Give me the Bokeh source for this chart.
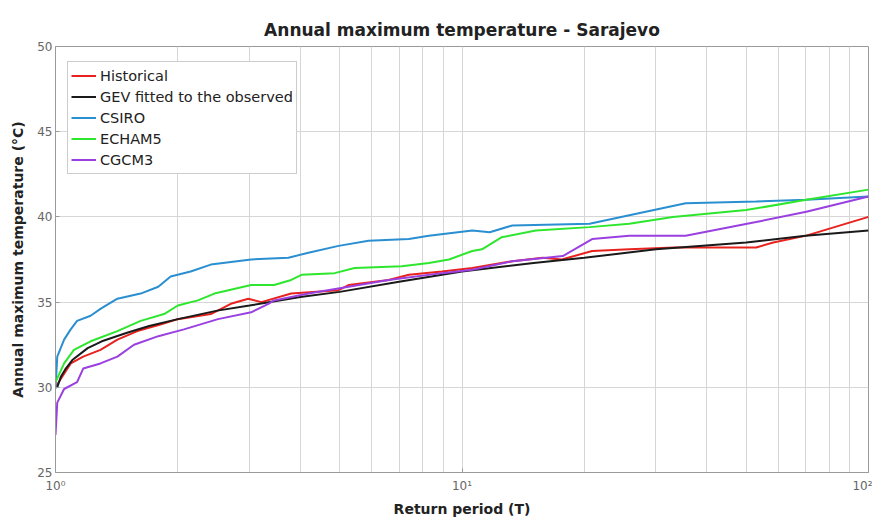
from bokeh.plotting import figure
from bokeh.models import Range1d, FixedTicker
from bokeh.embed import file_html
from bokeh.resources import INLINE

# ---- data ----
title_text = "Annual maximum temperature - Sarajevo"
x_label = "Return period (T)"
y_label = "Annual maximum temperature (°C)"
series_names = ["Historical", "GEV fitted to the observed", "CSIRO", "ECHAM5", "CGCM3"]

hist_T = [1.0, 1.09, 1.17, 1.29, 1.42, 1.59, 1.82, 2.0, 2.41, 2.7, 2.98, 3.21, 3.8,
          4.97, 5.26, 6.6, 7.4, 8.93, 10.6, 13.3, 15.8, 17.6, 20.9, 25.8, 33.3, 52.9,
          58.3, 70.3, 100.0]
hist_V = [30.0, 31.4, 31.8, 32.2, 32.8, 33.3, 33.7, 34.0, 34.3, 34.9, 35.2, 35.0, 35.5,
          35.7, 36.0, 36.3, 36.6, 36.8, 37.0, 37.4, 37.6, 37.5, 38.0, 38.1, 38.2, 38.2,
          38.5, 38.9, 40.0]

gev_T = [1.01, 1.03, 1.06, 1.1, 1.2, 1.3, 1.5, 1.7, 2.0, 2.5, 3.0, 4.0, 5.0, 7.0,
         10.0, 15.0, 20.0, 30.0, 50.0, 70.0, 100.0]
gev_V = [30.0, 30.6, 31.1, 31.6, 32.3, 32.7, 33.2, 33.6, 34.0, 34.5, 34.8, 35.3, 35.6,
         36.2, 36.8, 37.3, 37.6, 38.1, 38.5, 38.9, 39.2]

csiro_T = [1.0, 1.01, 1.05, 1.09, 1.13, 1.22, 1.29, 1.42, 1.62, 1.79, 1.92, 2.15, 2.41,
           3.03, 3.74, 4.19, 4.97, 5.89, 7.4, 8.29, 10.6, 11.7, 13.3, 20.6, 25.8, 35.5,
           52.9, 70.3, 100.0]
csiro_V = [29.9, 31.8, 32.8, 33.4, 33.9, 34.2, 34.6, 35.2, 35.5, 35.9, 36.5, 36.8, 37.2,
           37.5, 37.6, 37.9, 38.3, 38.6, 38.7, 38.9, 39.2, 39.1, 39.5, 39.6, 40.1, 40.8,
           40.9, 41.0, 41.2]

echam_T = [1.0, 1.05, 1.11, 1.22, 1.42, 1.62, 1.85, 2.0, 2.24, 2.46, 3.03, 3.45, 3.8,
           4.03, 4.86, 5.44, 7.11, 8.29, 9.29, 10.6, 11.2, 12.5, 15.2, 20.6, 25.8, 33.0,
           50.0, 70.3, 100.0]
echam_V = [30.3, 31.4, 32.2, 32.7, 33.3, 33.9, 34.3, 34.8, 35.1, 35.5, 36.0, 36.0, 36.3,
           36.6, 36.7, 37.0, 37.1, 37.3, 37.5, 38.0, 38.1, 38.8, 39.2, 39.4, 39.6, 40.0,
           40.4, 41.0, 41.6]

cgcm_T = [1.0, 1.01, 1.05, 1.13, 1.17, 1.29, 1.42, 1.56, 1.79, 2.07, 2.51, 3.03, 3.34,
          3.45, 4.19, 5.26, 6.6, 8.93, 10.6, 13.3, 17.7, 20.9, 25.8, 35.5, 52.9, 70.3, 100.0]
cgcm_V = [27.2, 29.1, 29.9, 30.3, 31.1, 31.4, 31.8, 32.5, 33.0, 33.4, 34.0, 34.4, 34.9,
          35.1, 35.5, 35.9, 36.3, 36.7, 36.9, 37.4, 37.7, 38.7, 38.9, 38.9, 39.7, 40.3, 41.2]

x_major = [1, 10, 100]
x_major_labels = ["10⁰", "10¹", "10²"]
x_minor = [2, 3, 4, 5, 6, 7, 8, 9, 20, 30, 40, 50, 60, 70, 80, 90]
y_ticks = [25, 30, 35, 40, 45, 50]

colors = ["#e8221e", "#1a1a1a", "#2a8fd0", "#2ee62e", "#9a40e0"]

FONT = "DejaVu Sans"

p = figure(width=872, height=519, x_axis_type="log",
           x_range=Range1d(1, 100), y_range=Range1d(25, 50),
           output_backend="svg", toolbar_location=None,
           title=title_text,
           min_border_left=55, min_border_right=4,
           min_border_top=46, min_border_bottom=41)

p.title.align = "center"
p.title.text_font = FONT
p.title.text_font_size = "17px"
p.title.text_font_style = "bold"
p.title.text_color = "#222222"
p.title.offset = 0
p.title.standoff = 14

data = [(hist_T, hist_V), (gev_T, gev_V), (csiro_T, csiro_V), (echam_T, echam_V), (cgcm_T, cgcm_V)]
for (t, v), name, c in zip(data, series_names, colors):
    p.line(t, v, line_color=c, line_width=2, legend_label=name)

p.xaxis.ticker = FixedTicker(ticks=x_major, minor_ticks=x_minor)
p.xaxis.major_label_overrides = {k: lab for k, lab in zip(x_major, x_major_labels)}
p.yaxis.ticker = FixedTicker(ticks=y_ticks)

for ax in (p.xaxis[0], p.yaxis[0]):
    ax.axis_line_color = "#9a9a9a"
    ax.major_tick_line_color = "#9a9a9a"
    ax.minor_tick_line_color = None
    ax.major_tick_in = 4
    ax.major_tick_out = 0
    ax.major_label_text_font = FONT
    ax.major_label_text_font_size = "12px"
    ax.major_label_text_color = "#666666"
    ax.axis_label_text_font = FONT
    ax.axis_label_text_font_size = "14px"
    ax.axis_label_text_font_style = "bold"
    ax.axis_label_text_color = "#222222"

p.xaxis.axis_label = x_label
p.yaxis.axis_label = y_label
p.xaxis.major_label_standoff = 2
p.xaxis.axis_label_standoff = 5
p.yaxis.major_label_standoff = 3
p.yaxis.axis_label_standoff = 8

p.xgrid.grid_line_color = "#d6d6d6"
p.xgrid.minor_grid_line_color = "#d6d6d6"
p.ygrid.grid_line_color = "#d6d6d6"
p.outline_line_color = "#9a9a9a"

leg = p.legend[0]
leg.location = (12, 298)
leg.margin = 0
leg.padding = 3
leg.spacing = 0
leg.label_height = 21
leg.glyph_height = 21
leg.glyph_width = 25
leg.label_standoff = 4
leg.label_text_font = FONT
leg.label_text_font_size = "14.5px"
leg.label_text_color = "#222222"
leg.border_line_color = "#9a9a9a"
leg.background_fill_alpha = 1.0

open("out.html", "w").write(file_html(p, INLINE))
